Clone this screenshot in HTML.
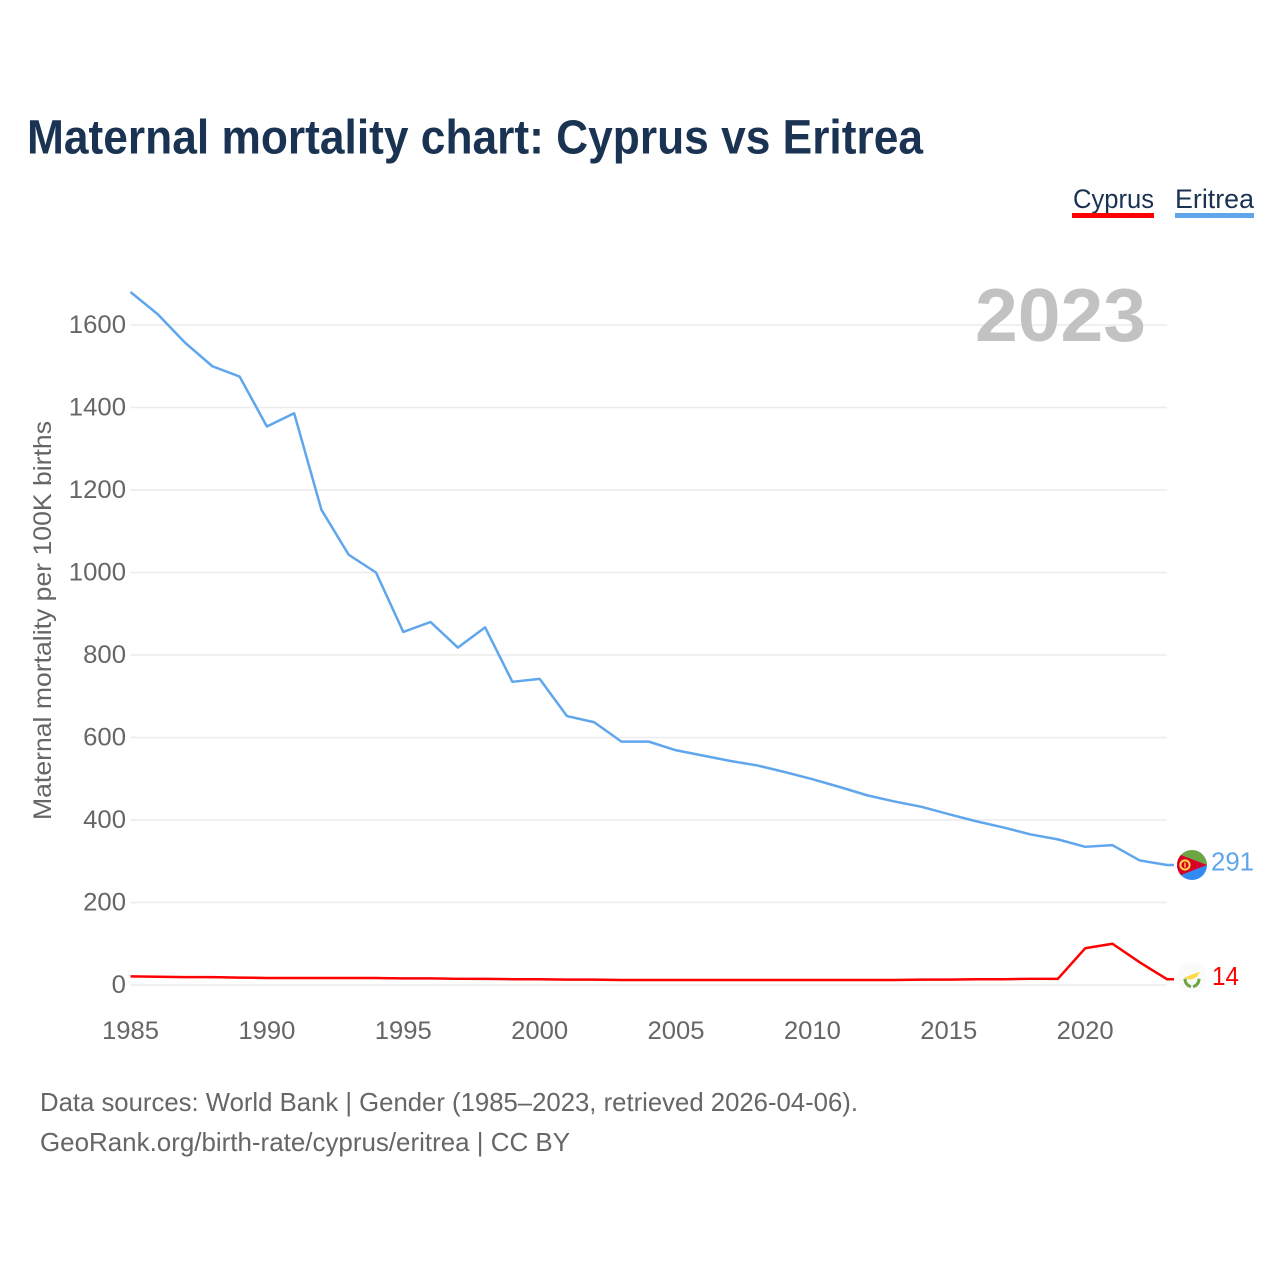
<!DOCTYPE html>
<html lang="en">
<head>
<meta charset="utf-8">
<title>Maternal mortality chart: Cyprus vs Eritrea</title>
<style>
html,body{margin:0;padding:0;background:#fff;width:1280px;height:1280px;overflow:hidden}
svg{display:block}
text{font-family:"Liberation Sans",sans-serif}
</style>
</head>
<body>
<svg id="chart" xmlns="http://www.w3.org/2000/svg" width="1280" height="1280" viewBox="0 0 1280 1280">
  <rect width="1280" height="1280" fill="#fff"/>
  <text x="27" y="153.5" font-size="48" font-weight="700" fill="#1a3352" textLength="896" lengthAdjust="spacingAndGlyphs">Maternal mortality chart: Cyprus vs Eritrea</text>

  <g>
    <text x="1073" y="208" font-size="27" fill="#1a3352" textLength="81" lengthAdjust="spacingAndGlyphs">Cyprus</text>
    <rect x="1072" y="213" width="82" height="5" fill="#ff0000"/>
  </g>
  <g>
    <text x="1175" y="208" font-size="27" fill="#1a3352" textLength="79" lengthAdjust="spacingAndGlyphs">Eritrea</text>
    <rect x="1175" y="213" width="79" height="5" fill="#60a6ec"/>
  </g>

  <g id="grid"></g>
  <g id="yticks"></g>
  <g id="xticks"></g>

  <text transform="translate(51,820) rotate(-90)" x="0" y="0" font-size="25" fill="#666" textLength="399" lengthAdjust="spacingAndGlyphs">Maternal mortality per 100K births</text>

  <text x="975" y="341" font-size="75" font-weight="700" fill="#c2c2c2" textLength="171" lengthAdjust="spacingAndGlyphs">2023</text>

  <g id="series"></g>

  <defs>
    <clipPath id="flag-clip"><circle cx="0" cy="0" r="15"/></clipPath>
  </defs>

  <g id="flag-eritrea">
    <g clip-path="url(#flag-clip)">
      <rect x="-15" y="-15" width="30" height="15" fill="#6da544"/>
      <rect x="-15" y="0" width="30" height="15" fill="#338af3"/>
      <polygon points="-15,-11.5 15,0 -15,11.5" fill="#d80027"/>
      <circle cx="-7" cy="0" r="4.6" fill="none" stroke="#ffda44" stroke-width="2"/>
      <rect x="-7.7" y="-2.5" width="1.4" height="5" fill="#ffda44"/>
    </g>
  </g>

  <g id="flag-cyprus">
    <g clip-path="url(#flag-clip)">
      <circle cx="0" cy="0" r="15" fill="#fafafa"/>
      <path d="M-8,0 L-3,-2 L2,-4 L8,-6 L5,-1 L1,1 L-3,2 Z" fill="#ffda44"/>
      <path d="M-7,1 C-7,6 -4,8 -1,9 M7,1 C7,6 4,8 1,9" fill="none" stroke="#6da544" stroke-width="3"/>
    </g>
  </g>

  <text id="value-eritrea" x="1211" font-size="26" fill="#60a6ec" textLength="43" lengthAdjust="spacingAndGlyphs"></text>
  <text id="value-cyprus" x="1212" font-size="26" fill="#ff0000" textLength="27" lengthAdjust="spacingAndGlyphs"></text>

  <text x="40" y="1111" font-size="26" fill="#666" textLength="818" lengthAdjust="spacingAndGlyphs">Data sources: World Bank | Gender (1985–2023, retrieved 2026-04-06).</text>
  <text x="40" y="1151" font-size="26" fill="#666" textLength="530" lengthAdjust="spacingAndGlyphs">GeoRank.org/birth-rate/cyprus/eritrea | CC BY</text>
</svg>

<script>
const years = [1985,1986,1987,1988,1989,1990,1991,1992,1993,1994,1995,1996,1997,1998,1999,2000,2001,2002,2003,2004,2005,2006,2007,2008,2009,2010,2011,2012,2013,2014,2015,2016,2017,2018,2019,2020,2021,2022,2023];
const eritreaValues = [1680,1626,1557,1500,1475,1354,1386,1152,1043,1000,856,880,818,867,735,742,652,637,590,590,569,556,543,532,516,499,480,460,445,432,414,397,382,365,353,335,339,302,291];
const cyprusValues = [21,20,19,19,18,17,17,17,17,17,16,16,15,15,14,14,13,13,12,12,12,12,12,12,12,12,12,12,12,13,13,14,14,15,15,89,100,55,14];
const yTickValues = [0,200,400,600,800,1000,1200,1400,1600];
const xTickValues = [1985,1990,1995,2000,2005,2010,2015,2020];

const NS = 'http://www.w3.org/2000/svg';
const xScale = function (year) { return 130.5 + (year - 1985) * (1167 - 130.5) / 38; };
const yScale = function (value) { return 985 - value * (985 - 325) / 1600; };
const make = function (tag) { return document.createElementNS(NS, tag); };

const grid = document.getElementById('grid');
const yticks = document.getElementById('yticks');
yTickValues.forEach(function (v) {
  const line = make('line');
  
  
  line.setAttribute('x1', xScale(1985));
  line.setAttribute('x2', xScale(2023));
  line.setAttribute('y1', yScale(v));
  line.setAttribute('y2', yScale(v));
  line.setAttribute('stroke', '#ececec');
  line.setAttribute('stroke-width', '1.5');
  grid.appendChild(line);

  const label = make('text');
  
  
  label.setAttribute('x', 126);
  label.setAttribute('y', yScale(v) + 7.8);
  label.setAttribute('text-anchor', 'end');
  label.setAttribute('font-size', '25');
  label.setAttribute('fill', '#666');
  label.setAttribute('textLength', String(v).length * 14.3);
  label.setAttribute('lengthAdjust', 'spacingAndGlyphs');
  label.textContent = String(v);
  yticks.appendChild(label);
});

const xticks = document.getElementById('xticks');
xTickValues.forEach(function (year) {
  const label = make('text');
  
  
  label.setAttribute('x', xScale(year));
  label.setAttribute('y', 1039);
  label.setAttribute('text-anchor', 'middle');
  label.setAttribute('font-size', '25');
  label.setAttribute('fill', '#666');
  label.setAttribute('textLength', '57');
  label.setAttribute('lengthAdjust', 'spacingAndGlyphs');
  label.textContent = String(year);
  xticks.appendChild(label);
});

const series = document.getElementById('series');
const drawLine = function (values, color) {
  const last = values[values.length - 1];
  const pts = values.map(function (v, i) { return xScale(years[i]) + ',' + yScale(v); });
  pts.push((xScale(years[years.length - 1]) + 7) + ',' + yScale(last));
  const line = make('polyline');
  line.setAttribute('points', pts.join(' '));
  line.setAttribute('fill', 'none');
  line.setAttribute('stroke', color);
  line.setAttribute('stroke-width', '2.5');
  line.setAttribute('stroke-linejoin', 'round');
  series.appendChild(line);
  return line;
};

const eritreaLine = drawLine(eritreaValues, '#60a6ec');


const cyprusLine = drawLine(cyprusValues, '#ff0000');



const eLast = eritreaValues[eritreaValues.length - 1];
const cLast = cyprusValues[cyprusValues.length - 1];
document.getElementById('flag-eritrea').setAttribute('transform', 'translate(1192,' + yScale(eLast) + ')');
document.getElementById('flag-cyprus').setAttribute('transform', 'translate(1192,' + (yScale(cLast) - 1.5) + ')');
const eLabel = document.getElementById('value-eritrea');
eLabel.setAttribute('y', yScale(eLast) + 5.5);
eLabel.textContent = String(eLast);
const cLabel = document.getElementById('value-cyprus');
cLabel.setAttribute('y', yScale(cLast) + 6);
cLabel.textContent = String(cLast);
</script>
</body>
</html>
